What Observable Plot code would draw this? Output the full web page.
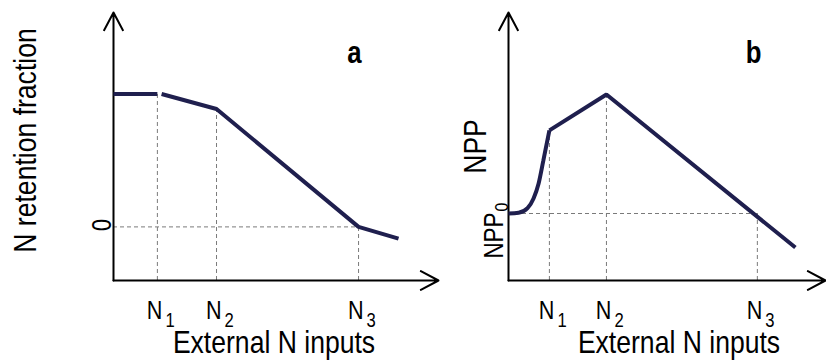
<!DOCTYPE html>
<html><head><meta charset="utf-8">
<script src="https://cdn.jsdelivr.net/npm/d3@7"></script>
<script src="https://cdn.jsdelivr.net/npm/@observablehq/plot@0.6"></script>
<style>
body{margin:0;background:#fff;}
#wrap{position:relative;width:826px;height:361px;overflow:hidden;background:#fff;}
#wrap svg{position:absolute;top:0;}
</style></head><body><div id="wrap"></div>
<script>
// ---------- shared ----------
const tickBase = "N";
const tickSubs = ["1", "2", "3"];
const xTitle = "External N inputs";
const lineColor = "#1f1f4e";
const dashColor = "#7a7a7a";
const fontFam = '"Liberation Sans Narrow", "Arial Narrow", "Liberation Sans", Arial, sans-serif';
const condense = 0.83; // the reference uses a condensed sans face

// ---------- panel a : N retention fraction ----------
const aLetter = "a";
const aYTitle = "N retention fraction";
const aZeroLabel = "0";
const aXDomain = [0, 100];
const aYDomain = [-0.25, 1];
const aN = [13.5, 31.7, 75.4];          // N1, N2, N3
const aNy = [0.62, 0.55, 0];            // curve value at N1, N2, N3
const aPlateauX = [0, 13.5];
const aPlateauY = [0.62, 0.62];
const aDeclineX = [14.8, 31.7, 75.4, 87.7];
const aDeclineY = [0.62, 0.55, 0, -0.055];

// ---------- panel b : NPP ----------
const bLetter = "b";
const bYTitle = "NPP";
const bNPP0Base = "NPP";
const bNPP0Sub = "0";
const bXDomain = [0, 100];
const bYDomain = [0, 100];
const bN = [12.9, 30.9, 78.5];
const bNy = [56, 69.4, 25];
const bNPP0 = 25;
const bRiseX = [0, 3.2, 6.0, 7.9, 9.5, 11.0, 12.9];
const bRiseY = [25, 25.3, 27, 30.6, 36.2, 44.8, 56];
const bLinX = [12.9, 30.9, 90.5];
const bLinY = [56, 69.4, 12.3];

const pts = (X, Y) => X.map((x, i) => ({x, y: Y[i]}));
const idx = (arr) => arr.map((_, i) => i);

function panel({width, marginLeft, marginRight, xDomain, yDomain, lines, N, Ny, hRule, yTickMarks, letter, yTitle, titleDx, yTitleDx, letterDx}) {
  const x0 = xDomain[0], x1 = xDomain[1], y0 = yDomain[0], y1 = yDomain[1];
  const axes = [
    {x1: x0, y1: y0, x2: x1, y2: y0},
    {x1: x0, y1: y0, x2: x0, y2: y1}
  ];
  return Plot.plot({
    width, height: 361,
    marginLeft, marginRight, marginTop: 12, marginBottom: 81,
    x: {domain: xDomain, axis: null},
    y: {domain: yDomain, axis: null},
    style: {background: "transparent", fontFamily: fontFam, overflow: "visible", color: "#000"},
    marks: [
      Plot.ruleX(idx(N), {x: i => N[i], y1: y0, y2: i => Ny[i], stroke: dashColor, strokeWidth: 1, strokeDasharray: "4,3"}),
      Plot.ruleY([hRule.y], {x1: x0, x2: hRule.x2, y: d => d, stroke: dashColor, strokeWidth: 1, strokeDasharray: "4,3"}),
      Plot.arrow(axes, {x1: "x1", y1: "y1", x2: "x2", y2: "y2", stroke: "#000", strokeWidth: 2, headLength: 15, headAngle: 56}),
      ...lines.map(l => Plot.line(l.data, {x: "x", y: "y", stroke: lineColor, strokeWidth: 4, strokeLinecap: "butt", strokeLinejoin: "miter", curve: l.curve || "linear"})),
      // x tick labels N with subscripts
      Plot.text(N, {x: d => d, y: y0, text: () => tickBase, textAnchor: "end", lineAnchor: "bottom", dx: 5, dy: 38, fontSize: 26, fill: "#000"}),
      Plot.text(idx(N), {x: i => N[i], y: y0, text: i => tickSubs[i], textAnchor: "start", lineAnchor: "bottom", dx: 8, dy: 46, fontSize: 20, fill: "#000"}),
      ...yTickMarks,
      Plot.text([xTitle], {frameAnchor: "bottom", text: d => d, lineAnchor: "bottom", dx: titleDx, dy: 72, fontSize: 32, fill: "#000"}),
      Plot.text([yTitle], {frameAnchor: "left", text: d => d, rotate: -90, lineAnchor: "bottom", textAnchor: "middle", dx: yTitleDx.dx, dy: yTitleDx.dy, fontSize: 32, fill: "#000"}),
      Plot.text([letter], {frameAnchor: "top-left", text: d => d, lineAnchor: "bottom", textAnchor: "middle", dx: letterDx, dy: 50, fontSize: 31, fontWeight: "bold", fill: "#000"})
    ]
  });
}

const wrap = document.getElementById("wrap");

const svgA = panel({
  width: 445, marginLeft: 113, marginRight: 7,
  xDomain: aXDomain, yDomain: aYDomain,
  lines: [{data: pts(aPlateauX, aPlateauY)}, {data: pts(aDeclineX, aDeclineY)}],
  N: aN, Ny: aNy,
  hRule: {y: 0, x2: aN[2]},
  yTickMarks: [
    Plot.text([0], {x: aXDomain[0], y: d => d, text: () => aZeroLabel, rotate: -90, textAnchor: "middle", lineAnchor: "bottom", dx: -3, dy: -2, fontSize: 27, fill: "#000"})
  ],
  letter: aLetter, yTitle: aYTitle, titleDx: -2, yTitleDx: {dx: -78, dy: -6}, letterDx: 241
});
svgA.style.left = "0px";
wrap.appendChild(svgA);

const svgB = panel({
  width: 406, marginLeft: 88, marginRight: 1,
  xDomain: bXDomain, yDomain: bYDomain,
  lines: [{data: pts(bRiseX, bRiseY), curve: "monotone-x"}, {data: pts(bLinX, bLinY)}],
  N: bN, Ny: bNy,
  hRule: {y: bNPP0, x2: bN[2]},
  yTickMarks: [
    Plot.text([bNPP0], {x: bXDomain[0], y: d => d, text: () => bNPP0Base, rotate: -90, textAnchor: "end", lineAnchor: "bottom", dx: -6, dy: -1, fontSize: 27, fill: "#000"}),
    Plot.text([bNPP0], {x: bXDomain[0], y: d => d, text: () => bNPP0Sub, rotate: -90, textAnchor: "start", lineAnchor: "bottom", dx: -1, dy: -2, fontSize: 19, fill: "#000"})
  ],
  letter: bLetter, yTitle: bYTitle, titleDx: 12, yTitleDx: {dx: -23, dy: 0}, letterDx: 245
});
svgB.style.left = "420px";
wrap.appendChild(svgB);

// condense the glyphs horizontally (along the text direction), keeping the text as real text
wrap.querySelectorAll("text").forEach(t => {
  const L = t.getComputedTextLength();
  if (L > 0) {
    t.setAttribute("textLength", (L * condense).toFixed(2));
    t.setAttribute("lengthAdjust", "spacingAndGlyphs");
  }
});
</script>
</body></html>
